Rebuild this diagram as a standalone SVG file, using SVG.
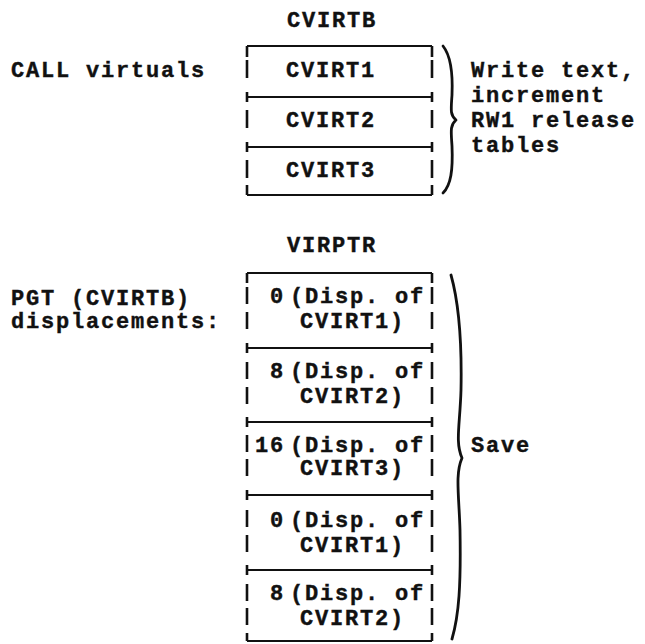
<svg xmlns="http://www.w3.org/2000/svg" width="645" height="644" viewBox="0 0 645 644">
<style>
text{font-family:"Liberation Mono","DejaVu Sans Mono",monospace;font-weight:bold;font-size:22px;letter-spacing:1.8px;fill:#111;stroke:#111;stroke-width:0.4}
.h{stroke:#111;stroke-width:2;fill:none}
.v{stroke:#111;stroke-width:2.6;fill:none}
.brace{stroke:#111;stroke-width:2.8;fill:none;stroke-linecap:round;stroke-linejoin:round}
</style>
<rect width="645" height="644" fill="#fff"/>
<g id="labels">
<text x="287" y="27">CVIRTB</text>
<text x="11" y="77">CALL virtuals</text>
<text x="287" y="252">VIRPTR</text>
<text x="11" y="305">PGT (CVIRTB)</text>
<text x="11" y="328">displacements:</text>
</g>
<g id="cvirtb">
<path class="h" d="M247,46H432M247,97H432M247,147H432M247,195H432"/>
<path class="v" d="M247,46V57M247,60V78M247,92V102M247,110V128M247,142V152M247,160V178M247,185V195M432,46V57M432,60V78M432,92V102M432,110V128M432,142V152M432,160V178M432,185V195"/>
<text x="286" y="77">CVIRT1</text>
<text x="286" y="127">CVIRT2</text>
<text x="286" y="177">CVIRT3</text>
</g>
<g id="write-note">
<text x="471" y="77">Write text,</text>
<text x="471" y="102">increment</text>
<text x="471" y="127">RW1 release</text>
<text x="471" y="152">tables</text>
</g>
<g id="virptr">
<path class="h" d="M247,273H432M247,348H432M247,422H432M247,495H432M247,570H432M247,641H432"/>
<path class="v" d="M247,273V283M247,287V304M247,312V329M247,343V353M247,362V379M247,387V404M247,417V427M247,435V452M247,459V476M247,490V500M247,510V527M247,535V552M247,565V575M247,584V601M247,608V625M247,633V641M432,273V283M432,287V304M432,312V329M432,343V353M432,362V379M432,387V404M432,417V427M432,435V452M432,459V476M432,490V500M432,510V527M432,535V552M432,565V575M432,584V601M432,608V625M432,633V641"/>
<text x="270" y="303">0</text><text x="290" y="303">(Disp. of</text>
<text x="300" y="328">CVIRT1)</text>
<text x="270" y="378">8</text><text x="290" y="378">(Disp. of</text>
<text x="300" y="403">CVIRT2)</text>
<text x="255" y="452">16</text><text x="290" y="452">(Disp. of</text>
<text x="300" y="475">CVIRT3)</text>
<text x="270" y="527">0</text><text x="290" y="527">(Disp. of</text>
<text x="300" y="552">CVIRT1)</text>
<text x="270" y="600">8</text><text x="290" y="600">(Disp. of</text>
<text x="300" y="625">CVIRT2)</text>
</g>
<g id="save-note">
<text x="471" y="452">Save</text>
</g>
<g id="connectors">
<path class="brace" d="M443,46C451,56 453,72 452,95C451,110 450,115 456,120C450,125 451,131 452,146C453,170 451,185 443,193"/>
<path class="brace" d="M451,275C458,300 462,340 461,390C460,425 455,442 462,458C455,474 459,495 460,530C461,585 459,615 452,639"/>
</g>
</svg>
